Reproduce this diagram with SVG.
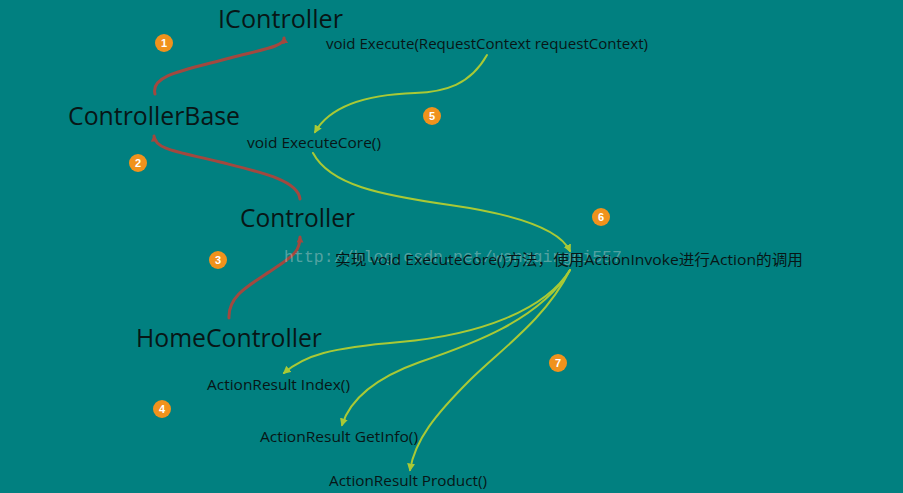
<svg xmlns="http://www.w3.org/2000/svg" width="903" height="493" viewBox="0 0 903 493">
<defs>
<style>
.big{font-family:"Open Sans","Liberation Sans",sans-serif;font-size:25px;fill:#081616}
.sm{font-family:"Open Sans","Liberation Sans",sans-serif;font-size:14.5px;fill:#081616}
.cn{font-family:"Open Sans","Noto Sans CJK SC",sans-serif;font-size:15px;fill:#081616}
.wm{font-family:"Liberation Mono",monospace;font-size:16px;fill:#d8d8d8;fill-opacity:0.4}
.red{fill:none;stroke:#a2483f;stroke-width:3;stroke-linecap:round}
.grn{fill:none;stroke:#a9c935;stroke-width:2;stroke-linecap:round}
.badge circle{fill:#f0921c}
.badge text{font-family:"Liberation Sans",sans-serif;font-size:11px;font-weight:bold;fill:#ffffff;text-anchor:middle}
</style>
<marker id="ar" viewBox="0 0 10 10" refX="8" refY="5" markerWidth="7" markerHeight="7" markerUnits="userSpaceOnUse" orient="auto"><path d="M0,0 L10,5 L0,10 z" fill="#a2483f"/></marker>
<marker id="ag" viewBox="0 0 10 10" refX="8" refY="5" markerWidth="8" markerHeight="8" markerUnits="userSpaceOnUse" orient="auto"><path d="M0,0 L10,5 L0,10 z" fill="#a9c935"/></marker>
</defs>
<rect width="903" height="493" fill="#018080"/>
<g id="connectors">
<path class="red" marker-end="url(#ar)" d="M155,94 C150,75 185,70 230,58 C265,49 285,46 284,38"/>
<path class="red" marker-end="url(#ar)" d="M300,199 C298,180 260,172 220,162 C180,152 155,150 154,136"/>
<path class="red" marker-end="url(#ar)" d="M229,318 C228,295 250,285 275,268 C295,255 300,250 300,237"/>
<path class="grn" marker-end="url(#ag)" d="M487,55 C470,85 445,92 415,93 C350,95 325,115 315,132"/>
<path class="grn" marker-end="url(#ag)" d="M313,153 C330,185 380,195 450,205 C520,215 560,230 570,251"/>
<path class="grn" marker-end="url(#ag)" d="M570,270 C545,310 480,335 400,342 C330,348 305,355 284,373"/>
<path class="grn" marker-end="url(#ag)" d="M570,270 C540,320 470,345 420,362 C375,378 350,400 342,425"/>
<path class="grn" marker-end="url(#ag)" d="M570,270 C545,320 500,350 470,380 C435,415 415,440 410,470"/>
</g>
<g id="n-icontroller"><text class="big" x="218" y="28" textLength="125" lengthAdjust="spacingAndGlyphs">IController</text></g>
<g id="n-execute"><text class="sm" x="326" y="49" textLength="322" lengthAdjust="spacingAndGlyphs">void Execute(RequestContext requestContext)</text></g>
<g id="n-controllerbase"><text class="big" x="68" y="125" textLength="172" lengthAdjust="spacingAndGlyphs">ControllerBase</text></g>
<g id="n-executecore"><text class="sm" x="247" y="148" textLength="134" lengthAdjust="spacingAndGlyphs">void ExecuteCore()</text></g>
<g id="n-controller"><text class="big" x="240" y="227" textLength="115" lengthAdjust="spacingAndGlyphs">Controller</text></g>
<g id="watermark"><text class="wm" x="284" y="262" textLength="338" lengthAdjust="spacingAndGlyphs">http://blog.csdn.net/wangqingei557</text></g>
<g id="n-invoke"><text class="cn" x="335" y="265" textLength="468" lengthAdjust="spacingAndGlyphs">实现 void ExecuteCore()方法，使用ActionInvoke进行Action的调用</text></g>
<g id="n-homecontroller"><text class="big" x="136" y="347" textLength="186" lengthAdjust="spacingAndGlyphs">HomeController</text></g>
<g id="n-index"><text class="sm" x="207" y="390" textLength="143" lengthAdjust="spacingAndGlyphs">ActionResult Index()</text></g>
<g id="n-getinfo"><text class="sm" x="260" y="442" textLength="158" lengthAdjust="spacingAndGlyphs">ActionResult GetInfo()</text></g>
<g id="n-product"><text class="sm" x="329" y="486" textLength="158" lengthAdjust="spacingAndGlyphs">ActionResult Product()</text></g>
<g id="b1" class="badge"><circle cx="164" cy="43" r="9"/><text x="164" y="47">1</text></g>
<g id="b2" class="badge"><circle cx="138" cy="163" r="9"/><text x="138" y="167">2</text></g>
<g id="b3" class="badge"><circle cx="218" cy="260" r="9"/><text x="218" y="264">3</text></g>
<g id="b4" class="badge"><circle cx="162" cy="409" r="9"/><text x="162" y="413">4</text></g>
<g id="b5" class="badge"><circle cx="432" cy="116" r="9"/><text x="432" y="120">5</text></g>
<g id="b6" class="badge"><circle cx="601" cy="217" r="9"/><text x="601" y="221">6</text></g>
<g id="b7" class="badge"><circle cx="558" cy="363" r="9"/><text x="558" y="367">7</text></g>
</svg>
